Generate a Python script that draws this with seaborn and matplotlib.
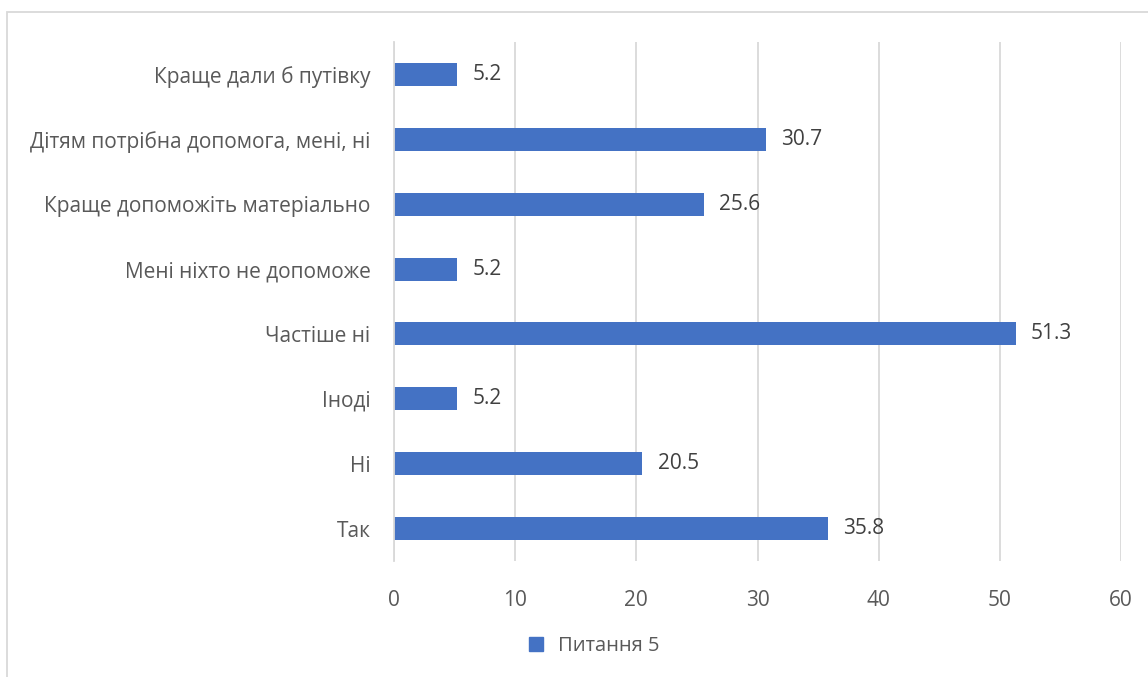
import matplotlib
matplotlib.use("Agg")
import matplotlib.pyplot as plt
import seaborn as sns
import pandas as pd
from matplotlib.patches import Rectangle
from matplotlib.lines import Line2D

categories = ["Краще дали б путівку", "Дітям потрібна допомога, мені, ні",
              "Краще допоможіть матеріально", "Мені ніхто не допоможе",
              "Частіше ні", "Іноді", "Ні", "Так"]
values = [5.2, 30.7, 25.6, 5.2, 51.3, 5.2, 20.5, 35.8]
series_name = "Питання 5"
x_ticks = [0, 10, 20, 30, 40, 50, 60]

df = pd.DataFrame({"cat": categories, "val": values})

sns.set_theme(style="white")
plt.rcParams['font.family'] = ['Open Sans', 'DejaVu Sans']

fig = plt.figure(figsize=(11.48, 6.77), dpi=100)
ax = fig.add_axes([394/1148, 1-561/677, (1121-394)/1148, (561-42)/677])

bar_color = "#4472C4"
sns.barplot(data=df, y="cat", x="val", orient="h", color=bar_color,
            width=0.355, ax=ax, saturation=1, linewidth=0)

fs = 15
ax.set_xlim(0, 60)
ax.set_xticks(x_ticks)
ax.set_xticklabels([str(t) for t in x_ticks])
ax.set_xlabel("")
ax.set_ylabel("")
ax.xaxis.grid(True, color="#d9d9d9", linewidth=1.3)
ax.set_axisbelow(True)
for s in ["top", "right", "bottom"]:
    ax.spines[s].set_visible(False)
ax.spines["left"].set_color("#d9d9d9")
ax.spines["left"].set_linewidth(1.3)
ax.tick_params(axis="x", length=0, pad=21, labelsize=fs, labelcolor="#595959")
ax.tick_params(axis="y", length=0, pad=17, labelsize=fs, labelcolor="#595959")

for i, v in enumerate(values):
    ax.annotate(f"{v}", xy=(v, i), xytext=(11, 0), textcoords="offset points",
                ha="left", va="center", fontsize=fs, color="#404040")

# legend
handle = Line2D([], [], marker="s", linestyle="none", markersize=10,
                markerfacecolor=bar_color, markeredgecolor=bar_color)
fig.legend([handle], [series_name], loc="center", bbox_to_anchor=(588/1148, 1-646/677),
           frameon=False, fontsize=fs - 0.5, handletextpad=0.1, labelcolor="#595959")

# chart border
fig.patches.append(Rectangle((7/1148, -0.05), 1.1, 1-12/677+0.05,
                             transform=fig.transFigure, fill=False,
                             edgecolor="#d9d9d9", linewidth=1.3))

fig.savefig("out.png", dpi=100, facecolor="white")
